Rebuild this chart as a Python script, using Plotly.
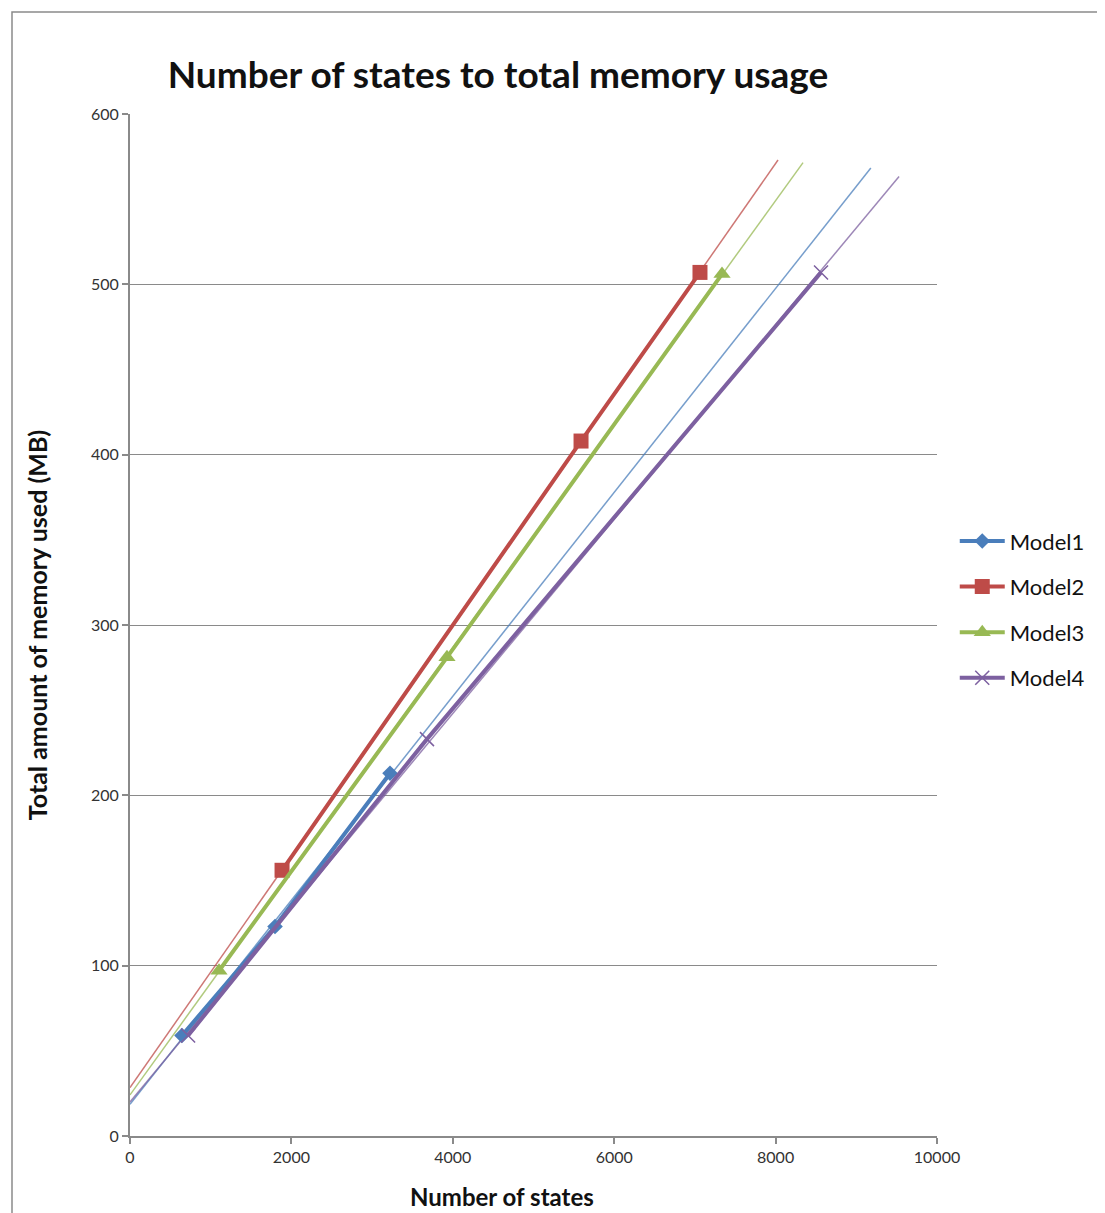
import numpy as np
import plotly.graph_objects as go

series_names = ["Model1", "Model2", "Model3", "Model4"]
model1_x = [644, 1797, 3222]
model1_y = [59, 123, 213]
model2_x = [1884, 5589, 7063]
model2_y = [156, 408, 507]
model3_x = [1103, 3928, 7336]
model3_y = [97, 281, 506]
model4_x = [720, 3680, 8563]
model4_y = [59, 233, 507]
trend_end_x = [9180, 8030, 8340, 9530]

x_ticks = [0, 2000, 4000, 6000, 8000, 10000]
y_ticks = [0, 100, 200, 300, 400, 500, 600]

colors = ["#4A7EBB", "#BE4B48", "#98B954", "#7D60A0"]
symbols = ["diamond", "square", "triangle-up", "x-thin-open"]
msizes = [12, 15, 15, 14]

xs = [model1_x, model2_x, model3_x, model4_x]
ys = [model1_y, model2_y, model3_y, model4_y]

FONT = "Lato"
fig = go.Figure()

# trendlines (linear regression, extended backward to 0 and forward)
for i in range(4):
    slope, icpt = np.polyfit(xs[i], ys[i], 1)
    tx = [0, trend_end_x[i]]
    ty = [icpt + slope * v for v in tx]
    fig.add_trace(go.Scatter(x=tx, y=ty, mode="lines", showlegend=False,
                             line=dict(color=colors[i], width=1.5), opacity=0.75,
                             hoverinfo="skip"))

for i in range(4):
    fig.add_trace(go.Scatter(
        x=xs[i], y=ys[i], mode="lines+markers", name=series_names[i],
        legendgroup=series_names[i],
        line=dict(color=colors[i], width=4),
        marker=dict(symbol=symbols[i], size=msizes[i], color=colors[i],
                    line=dict(color=colors[i], width=1.5 if i == 3 else 0)),
    ))

W, H = 1097, 1205
L, T = 122, 106
PW, PH = 807, 1022
fig.update_layout(
    width=W, height=H,
    margin=dict(l=L, r=W - L - PW, t=T, b=H - T - PH),
    paper_bgcolor="white", plot_bgcolor="white",
    title=dict(text="<b>Number of states to total memory usage</b>",
               font=dict(family=FONT, size=37, color="#111"),
               x=490 / W, xanchor="center", y=1 - 67 / H, yanchor="middle"),
    font=dict(family=FONT, color="#333"),
    legend=dict(x=1.022, xanchor="left", y=0.515, yanchor="middle",
                font=dict(family=FONT, size=22, color="#111"),
                tracegroupgap=14, itemwidth=45, bgcolor="rgba(0,0,0,0)"),
    showlegend=True,
)

fig.update_xaxes(
    range=[0, 10000], tickvals=x_ticks, ticktext=[str(v) for v in x_ticks],
    showgrid=False, zeroline=False, showline=True, linecolor="#8a8a8a", linewidth=2,
    ticks="outside", ticklen=6, tickcolor="#8a8a8a", tickwidth=1.5,
    tickfont=dict(family=FONT, size=16, color="#333"),
)
fig.update_yaxes(
    range=[0, 600], tickvals=y_ticks, ticktext=[str(v) for v in y_ticks],
    showgrid=True, gridcolor="#8a8a8a", gridwidth=1.2, zeroline=False,
    showline=True, linecolor="#8a8a8a", linewidth=2,
    ticks="outside", ticklen=6, tickcolor="#8a8a8a", tickwidth=1.5,
    tickfont=dict(family=FONT, size=16, color="#333"),
    title=dict(text="<b>Total amount of memory used (MB)</b>",
               font=dict(family=FONT, size=25, color="#111"), standoff=36),
)

# x-axis title (offset left of plot centre, as in the original)
fig.add_annotation(text="<b>Number of states</b>", xref="paper", yref="paper",
                   x=(502 - 130) / PW, y=(1136 - 1196) / PH, xanchor="center", yanchor="middle",
                   showarrow=False, font=dict(family=FONT, size=24, color="#111"))

# outer chart-area border
fig.add_shape(type="rect", xref="paper", yref="paper",
              x0=(4 - L) / PW, x1=1.3, y0=-0.2, y1=1 + (T - 4) / PH,
              line=dict(color="#8a8a8a", width=1.5), fillcolor="rgba(0,0,0,0)", layer="below")

fig.write_html("out.html")
